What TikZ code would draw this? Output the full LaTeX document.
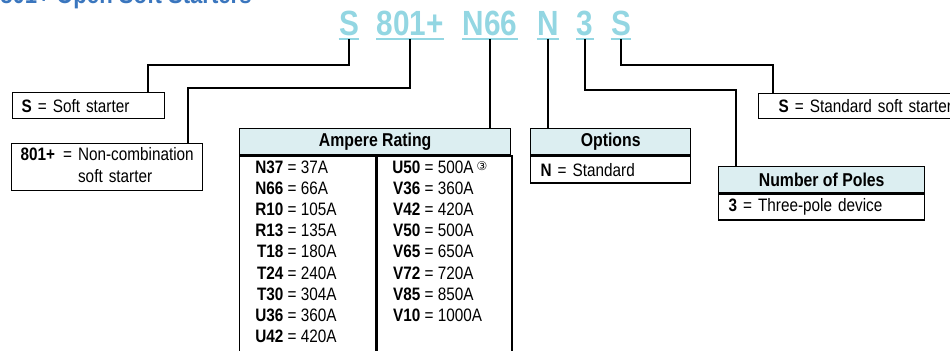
\documentclass[tikz,border=0pt]{standalone}
\usepackage{fontspec}
\setmainfont{Liberation Sans}[FakeStretch=0.85]
\newfontfamily\symfont{DejaVu Sans}
\usepackage{xcolor}
\usepackage{tikz}

\definecolor{codeblue}{RGB}{147,214,226}
\definecolor{hdrfill}{RGB}{220,238,241}
\definecolor{titleblue}{RGB}{58,118,190}

\begin{document}
\begin{tikzpicture}[
        x=0.5pt, y=-0.5pt, font=\fontsize{9}{10.6}\selectfont,
        every node/.style={inner sep=0pt},
        code/.style ={font=\fontsize{17.5}{18}\selectfont\bfseries, text=codeblue,
                      anchor=base, inner xsep=0pt, inner ysep=1.75pt},
        uline/.style={draw=codeblue, line width=1pt},
        cbox/.style ={rectangle, draw=black, line width=0.7pt, fill=white,
                      anchor=north west, align=left},
        hdr/.style  ={rectangle, draw=black, line width=0.7pt, fill=hdrfill,
                      anchor=north west, minimum height=13pt,
                      font=\fontsize{9.3}{11}\selectfont\bfseries},
        conn/.style ={draw=black, line width=1.1pt},
        title/.style={font=\fontsize{13}{15}\selectfont\bfseries, text=titleblue,
                      anchor=base west},
    ]
        \useasboundingbox (0,0) rectangle (950,350);

        % ===================== Title (cut at the top) =====================
        \node[title] (ttl) at (0,3.5) {801+ Open Soft Starters};

        % ===================== Catalogue number =====================
        \node[code] (cS)   at (349,35) {S};
        \node[code] (c801) at (410,35) {801+};
        \node[code] (cN66) at (490,35) {N66};
        \node[code] (cN)   at (548,35) {N};
        \node[code] (c3)   at (585,35) {3};
        \node[code] (cS2)  at (621,35) {S};
        \foreach \c in {cS,c801,cN66,cN,c3,cS2}
            \draw[uline] (\c.south west) -- (\c.south east);

        % ===================== Left boxes =====================
        \node[cbox, inner xsep=4.5pt, text width=67pt, minimum height=13pt]
            (bS) at (12,92) {\textbf{S} = Soft starter};
        \node[cbox, inner xsep=4.5pt, text width=86.5pt, minimum height=23.5pt]
            (b801) at (11,143) {\begin{tabular}{@{}l@{\hspace{4pt}}l@{\hspace{3pt}}l@{}}
                \textbf{801+} & = & Non-combination\\ & & soft starter\end{tabular}};

        % ===================== Ampere rating =====================
        \node[hdr, minimum width=135.5pt] (ampHead) at (239,128) {Ampere Rating};
        \node[cbox, minimum width=68pt, minimum height=103pt] (ampL) at (ampHead.south west) {};
        \node[cbox, minimum width=67.5pt, minimum height=103pt] (ampR) at (ampL.north east) {};
        \node[anchor=base west] (ampLtxt) at (255,173) {\begin{tabular}[t]{@{}r@{\ =\ }l@{}}
            \textbf{N37} & 37A\\  \textbf{N66} & 66A\\  \textbf{R10} & 105A\\
            \textbf{R13} & 135A\\ \textbf{T18} & 180A\\ \textbf{T24} & 240A\\
            \textbf{T30} & 304A\\ \textbf{U36} & 360A\\ \textbf{U42} & 420A\end{tabular}};
        \node[anchor=base west] (ampRtxt) at (392,173) {\begin{tabular}[t]{@{}r@{\ =\ }l@{}}
            \textbf{U50} & 500A\,{\symfont\fontsize{6}{6}\selectfont\raisebox{1.5pt}{③}}\\
            \textbf{V36} & 360A\\ \textbf{V42} & 420A\\ \textbf{V50} & 500A\\
            \textbf{V65} & 650A\\ \textbf{V72} & 720A\\ \textbf{V85} & 850A\\
            \textbf{V10} & 1000A\end{tabular}};

        % ===================== Options / poles / type =====================
        \node[hdr, minimum width=80pt] (optHead) at (530,128) {Options};
        \node[cbox, inner xsep=5pt, text width=70pt, minimum height=13.5pt]
            (optBody) at (optHead.south west) {\textbf{N} = Standard};
        \node[hdr, minimum width=103pt] (polHead) at (718,166) {Number of Poles};
        \node[cbox, inner xsep=5pt, text width=93pt, minimum height=13pt]
            (polBody) at (polHead.south west) {\textbf{3} = Three-pole device};
        \node[cbox, inner xsep=10pt, text width=96pt, minimum height=12.5pt]
            (bS2) at (758,93) {\textbf{S} = Standard soft starter};

        % ===================== Leader lines =====================
        \coordinate (kS)   at (148,65);
        \coordinate (k801) at (188,88);
        \coordinate (k3)   at (736,90);
        \coordinate (kS2)  at (773,65);
        \draw[conn] (cS.south) |- (kS) -- (kS |- bS.north);
        \draw[conn] (c801.south) |- (k801) -- (k801 |- b801.north);
        \draw[conn] (cN66.south) -- (cN66.south |- ampHead.north);
        \draw[conn] (cN.south) -- (cN.south |- optHead.north);
        \draw[conn] (c3.south) |- (k3) -- (k3 |- polHead.north);
        \draw[conn] (cS2.south) |- (kS2) -- (kS2 |- bS2.north);
    \end{tikzpicture}
\end{document}
